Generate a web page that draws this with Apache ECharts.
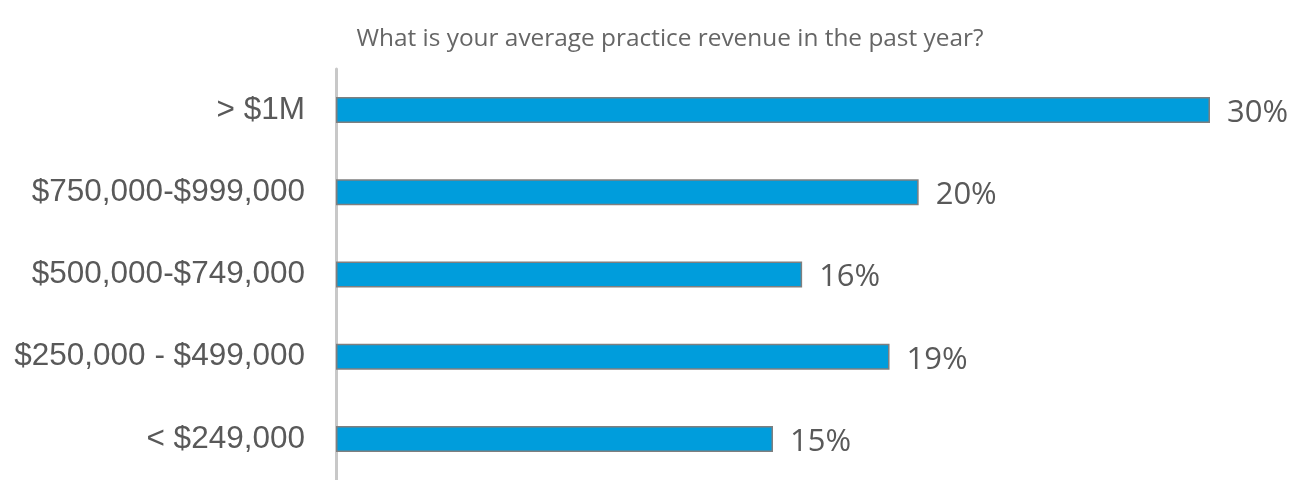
<!DOCTYPE html>
<html>
<head>
<meta charset="utf-8">
<script src="https://cdn.jsdelivr.net/npm/echarts@6/dist/echarts.min.js"></script>
<style>
  html, body { margin: 0; padding: 0; background: #fff; }
  #main { width: 1293px; height: 480px; }
</style>
</head>
<body>
<div id="main"></div>
<script>
// categories from top to bottom
const categories = ['> $1M', '$750,000-$999,000', '$500,000-$749,000', '$250,000 - $499,000', '< $249,000'];
const shares = [30, 20, 16, 19, 15];
const titleText = 'What is your average practice revenue in the past year?';

const myChart = echarts.init(document.getElementById('main'));

const option = {
  animation: false,
  title: {
    text: titleText,
    left: 665,
    textAlign: 'center',
    top: 22,
    textStyle: {
      fontFamily: 'Open Sans',
      fontSize: 24.4,
      fontWeight: 'normal',
      color: '#666666'
    }
  },
  grid: {
    left: 336,
    right: 83,
    top: 69,
    height: 414
  },
  xAxis: {
    type: 'value',
    min: 0,
    max: 30,
    show: false
  },
  yAxis: {
    type: 'category',
    inverse: true,
    data: categories,
    offset: 2,
    axisLine: { show: true, lineStyle: { color: '#c8c8c8', width: 3 } },
    axisTick: { show: false },
    axisLabel: {
      margin: 29,
      fontFamily: 'Liberation Sans',
      fontSize: 31.5,
      color: '#595959'
    }
  },
  series: [{
    type: 'bar',
    data: shares,
    barWidth: 26,
    itemStyle: {
      color: '#009ddc',
      borderColor: '#7f7f7f',
      borderWidth: 1.5
    },
    label: {
      show: true,
      position: 'right',
      distance: 17,
      offset: [0, 3],
      formatter: '{c}%',
      fontFamily: 'Open Sans',
      fontSize: 31,
      color: '#595959'
    }
  }]
};

myChart.setOption(option);
</script>
</body>
</html>
